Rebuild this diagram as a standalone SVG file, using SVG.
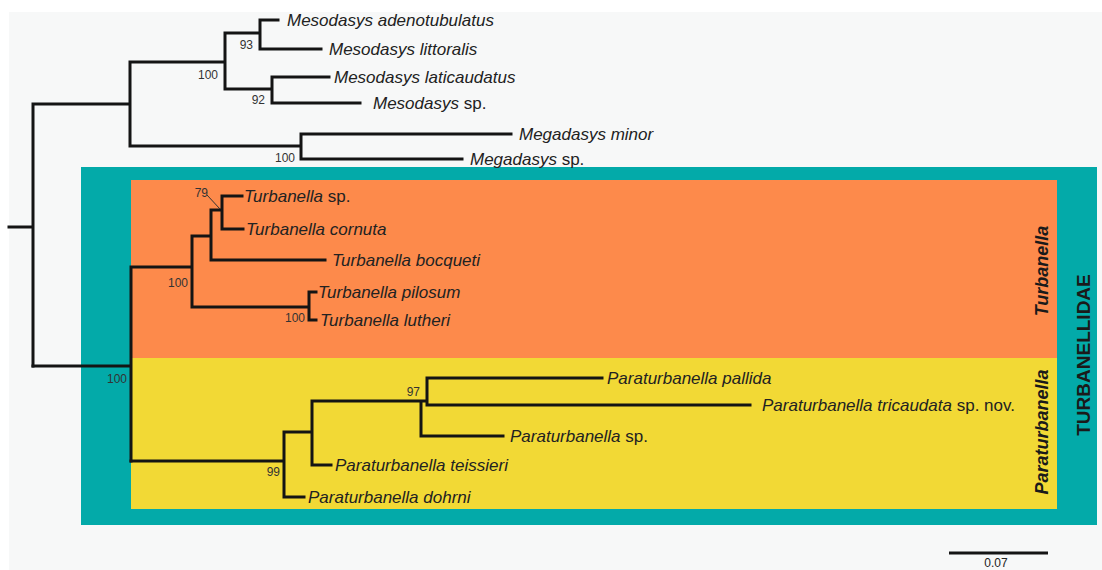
<svg xmlns="http://www.w3.org/2000/svg" width="1102" height="570" viewBox="0 0 1102 570">
<style>
.br{fill:none;stroke:#141414;stroke-width:3;stroke-linecap:square;stroke-linejoin:miter}
.tx{font-family:"Liberation Sans",Arial,sans-serif;font-size:17px;fill:#222}
.it{font-style:italic}
.bs{font-family:"Liberation Sans",Arial,sans-serif;font-size:12px;fill:#333;text-anchor:end}
.cl{font-family:"Liberation Sans",Arial,sans-serif;font-size:18px;font-weight:bold;font-style:italic;fill:#1a1a1a;text-anchor:middle}
</style>
<rect x="0" y="0" width="1102" height="570" fill="#ffffff"/>
<rect x="9" y="12" width="1093" height="558" fill="#f7f8f8"/>
<g id="clade-turbanellidae"><rect x="81" y="167" width="1016" height="358" fill="#03aaa9"/>
<text class="cl" style="font-style:normal;font-size:19px" transform="translate(1090 355) rotate(-90)">TURBANELLIDAE</text></g>
<g id="clade-turbanella"><rect x="131" y="180" width="926" height="178" fill="#fd8a4b"/>
<text class="cl" transform="translate(1048 271) rotate(-90)">Turbanella</text></g>
<g id="clade-paraturbanella"><rect x="131" y="358" width="926" height="151" fill="#f2d935"/>
<text class="cl" transform="translate(1048 432) rotate(-90)">Paraturbanella</text></g>

<g id="connectors">
<path class="br" d="M9 227H33M33 104V366M33 104H130M130 62V146M130 62H225M225 33V89M225 33H260M260 20V49M260 20H278M260 49H321M225 89H272M272 77V103M272 77H329M272 103H360M130 146H301M301 134V159M301 134H511M301 159H462"/>
<path class="br" d="M33 366H131M131 267V461M131 267H192M192 236V307M192 236H211M211 210V260M211 210H222M222 196V229M222 196H242M222 229H243M211 260H325M192 307H309M309 292V320M309 292H316M309 320H316"/>
<path class="br" d="M131 461H284M284 432V497M284 432H312M312 401V465M312 401H427M427 378V405M427 378H602M427 405H750M421 401V436M421 436H503M312 465H331M284 497H304"/>
<path d="M207 195L220 209" stroke="#333" stroke-width="1" fill="none"/>
<path d="M949 553H1048" stroke="#141414" stroke-width="3"/>
</g>

<g id="taxa">
<g id="t1"><text class="tx it" x="287" y="26">Mesodasys adenotubulatus</text></g>
<g id="t2"><text class="tx it" x="329" y="55">Mesodasys littoralis</text></g>
<g id="t3"><text class="tx it" x="334" y="83">Mesodasys laticaudatus</text></g>
<g id="t4"><text class="tx" x="373" y="109"><tspan class="it">Mesodasys</tspan> sp.</text></g>
<g id="t5"><text class="tx it" x="519" y="140">Megadasys minor</text></g>
<g id="t6"><text class="tx" x="470" y="165"><tspan class="it">Megadasys</tspan> sp.</text></g>
<g id="t7"><text class="tx" x="244" y="202"><tspan class="it">Turbanella</tspan> sp.</text></g>
<g id="t8"><text class="tx it" x="246" y="235">Turbanella cornuta</text></g>
<g id="t9"><text class="tx it" x="332" y="266">Turbanella bocqueti</text></g>
<g id="t10"><text class="tx it" x="318" y="298">Turbanella pilosum</text></g>
<g id="t11"><text class="tx it" x="320" y="326">Turbanella lutheri</text></g>
<g id="t12"><text class="tx it" x="607" y="384">Paraturbanella pallida</text></g>
<g id="t13"><text class="tx" x="762" y="411"><tspan class="it">Paraturbanella tricaudata</tspan> sp. nov.</text></g>
<g id="t14"><text class="tx" x="510" y="442"><tspan class="it">Paraturbanella</tspan> sp.</text></g>
<g id="t15"><text class="tx it" x="335" y="471">Paraturbanella teissieri</text></g>
<g id="t16"><text class="tx it" x="308" y="503">Paraturbanella dohrni</text></g>
</g>

<g id="support">
<text class="bs" x="253" y="49">93</text>
<text class="bs" x="218" y="79">100</text>
<text class="bs" x="265" y="104">92</text>
<text class="bs" x="295" y="162">100</text>
<text class="bs" x="127" y="383">100</text>
<text class="bs" x="208" y="197">79</text>
<text class="bs" x="188" y="287">100</text>
<text class="bs" x="305" y="322">100</text>
<text class="bs" x="420" y="396">97</text>
<text class="bs" x="280" y="476">99</text>
</g>
<g id="scale"><text class="tx" style="font-size:12px;text-anchor:middle" x="996" y="567">0.07</text></g>
</svg>
